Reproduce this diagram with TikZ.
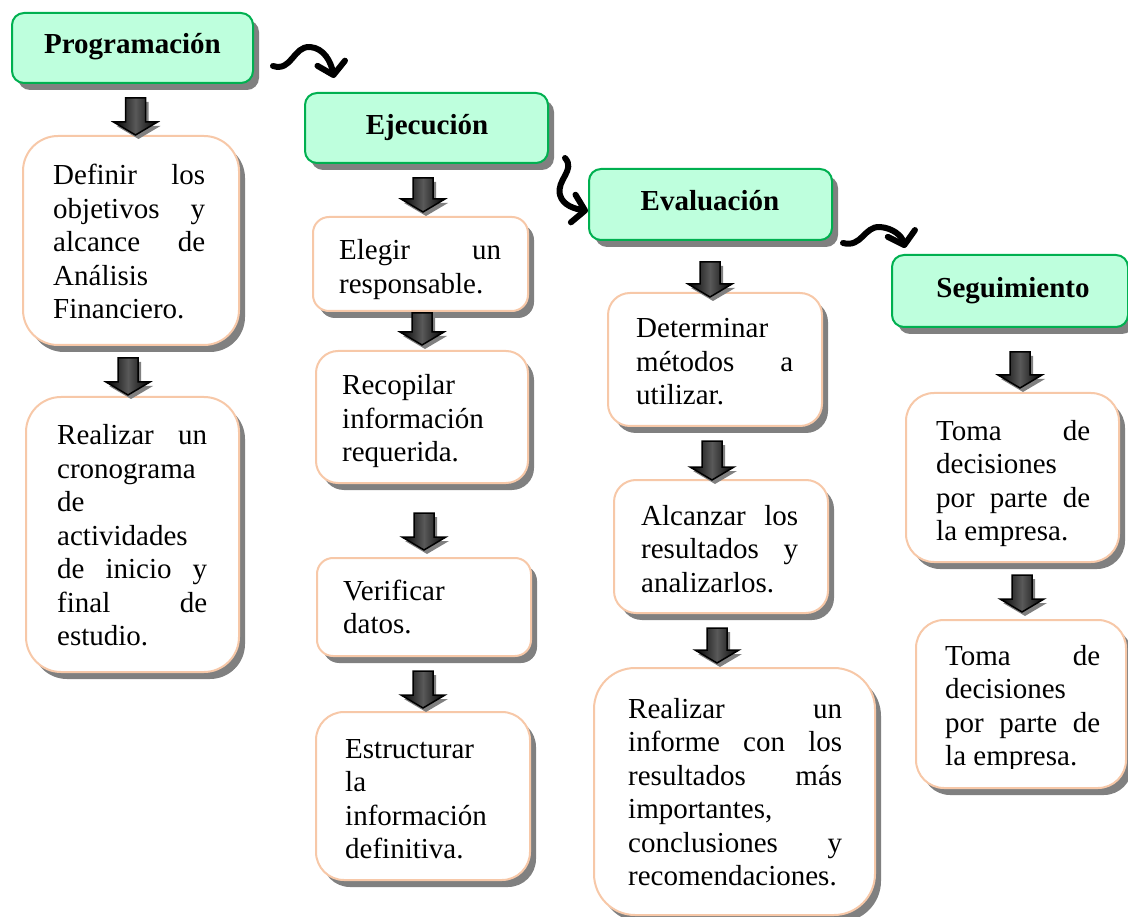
\documentclass[tikz,border=0pt]{standalone}
\usepackage{fontspec}
\setmainfont{Liberation Serif}
\usetikzlibrary{shadows,arrows.meta}
\definecolor{hdrfill}{RGB}{190,255,221}
\definecolor{hdrline}{RGB}{0,176,80}
\definecolor{cardline}{RGB}{247,200,168}
\definecolor{shadowgray}{RGB}{128,128,128}
\tikzset{
  box/.style={anchor=north west, inner sep=0pt, outer sep=0pt, line width=2pt,
    drop shadow={shadow xshift=6pt, shadow yshift=-7pt, fill=shadowgray, opacity=1}},
  hdr/.style={box, draw=hdrline, fill=hdrfill, rounded corners=12pt, minimum height=70pt},
  card/.style={box, draw=cardline, fill=white},
  hdrtext/.style={anchor=base, inner sep=0pt, font=\fontsize{29}{33.5}\selectfont\bfseries},
  cardtext/.style={anchor=base west, inner sep=0pt, font=\fontsize{29}{33.5}\selectfont},
  flow/.style={line width=6pt, line cap=round, line join=round,
    -{Straight Barb[length=12pt,width=28pt,line cap=round,line join=round]}},
  blkfill/.style={left color=black, right color=black, middle color=black!65, draw=black, line width=1.5pt},
}
\newcommand\blkarrow[3]{%
  \fill[shadowgray, shift={(3,4)}] (#1-10,#2) -- (#1+10,#2) -- (#1+10,#3-13) -- (#1+22,#3-13) -- (#1,#3) -- (#1-22,#3-13) -- (#1-10,#3-13) -- cycle;
  \shade[blkfill] (#1-10,#2) -- (#1+10,#2) -- (#1+10,#3-13) -- (#1+22,#3-13) -- (#1,#3) -- (#1-22,#3-13) -- (#1-10,#3-13) -- cycle;}
\begin{document}
\begin{tikzpicture}[x=1pt,y=-1pt]
\useasboundingbox (0,0) rectangle (1128,917);

% ---- headers
\node[hdr, minimum width=241pt] (h1) at (12,13) {};
\node[hdr, minimum width=243pt] (h2) at (305,93) {};
\node[hdr, minimum width=243pt, minimum height=71pt] (h3) at (589,169) {};
\node[hdr, minimum width=236pt, minimum height=72pt] (h4) at (892,255) {};
\node[hdrtext] (h1t) at (132.5,54) {Programación};
\node[hdrtext] (h2t) at (427,135) {Ejecución};
\node[hdrtext] (h3t) at (710,211) {Evaluación};
\node[hdrtext] (h4t) at (1013,298) {Seguimiento};

% ---- cards: Programación
\node[card, rounded corners=35pt, minimum width=216pt, minimum height=209pt] (c1) at (23,136) {};
\node[cardtext] (c1t) at (53,185) {\parbox[t]{152pt}{Definir\hfill los\\objetivos\hfill y\\alcance\hfill de\\Análisis\\Financiero.}};
\node[card, rounded corners=35pt, minimum width=213pt, minimum height=275pt] (c2) at (26,397) {};
\node[cardtext] (c2t) at (57,445) {\parbox[t]{150pt}{Realizar\hfill un\\cronograma\\de\\actividades\\de\hfill inicio\hfill y\\final\hfill de\\estudio.}};

% ---- cards: Ejecución
\node[card, rounded corners=16pt, minimum width=215pt, minimum height=94pt] (e1) at (313,217) {};
\node[cardtext] (e1t) at (339,260) {\parbox[t]{162pt}{Elegir\hfill un\\responsable.}};
\node[card, rounded corners=22pt, minimum width=212pt, minimum height=132pt] (e2) at (316,351) {};
\node[cardtext] (e2t) at (342,395) {\parbox[t]{162pt}{Recopilar\\información\\requerida.}};
\node[card, rounded corners=16pt, minimum width=214pt, minimum height=98pt] (e3) at (317,558) {};
\node[cardtext] (e3t) at (343,600) {\parbox[t]{162pt}{Verificar\\datos.}};
\node[card, rounded corners=28pt, minimum width=214pt, minimum height=168pt] (e4) at (316,712) {};
\node[cardtext] (e4t) at (345,758) {\parbox[t]{162pt}{Estructurar\\la\\información\\definitiva.}};

% ---- cards: Evaluación
\node[card, rounded corners=22pt, minimum width=214pt, minimum height=133pt] (v1) at (608,293) {};
\node[cardtext] (v1t) at (636,338) {\parbox[t]{157pt}{Determinar\\métodos\hfill a\\utilizar.}};
\node[card, rounded corners=22pt, minimum width=214pt, minimum height=133pt] (v2) at (614,480) {};
\node[cardtext] (v2t) at (641,525) {\parbox[t]{157pt}{Alcanzar\hfill los\\resultados\hfill y\\analizarlos.}};
\node[card, rounded corners=41pt, minimum width=281pt, minimum height=247pt] (v3) at (594,668) {};
\node[cardtext] (v3t) at (628,718) {\parbox[t]{214pt}{Realizar\hfill un\\informe\hfill con\hfill los\\resultados\hfill más\\importantes,\\conclusiones\hfill y\\recomendaciones.}};

% ---- cards: Seguimiento
\node[card, rounded corners=28pt, minimum width=213pt, minimum height=169pt] (s1) at (906,393) {};
\node[cardtext] (s1t) at (936,440) {\parbox[t]{154pt}{Toma\hfill de\\decisiones\\por\hfill parte\hfill de\\la empresa.}};
\node[card, rounded corners=28pt, minimum width=210pt, minimum height=168pt] (s2) at (916,620) {};
\begin{scope}
  \clip (900,600) rectangle (1128,768);
  \node[cardtext] (s2t) at (945,665) {\parbox[t]{155pt}{Toma\hfill de\\decisiones\\por\hfill parte\hfill de\\la empresa.}};
\end{scope}

% ---- block arrows (x centre, top, tip)
\blkarrow{135.5}{98}{135}
\blkarrow{128}{358}{395}
\blkarrow{423}{178}{212}
\blkarrow{422}{313}{345}
\blkarrow{424}{513}{550}
\blkarrow{423}{671}{708}
\blkarrow{710}{262}{297}
\blkarrow{712}{441}{480}
\blkarrow{717}{628}{663}
\blkarrow{1020}{352}{388}
\blkarrow{1022}{575}{612}

% ---- curved flow arrows between stages
\coordinate (f1s) at (273,66);
\coordinate (f1e) at (334,78);
\draw[flow] (f1s) .. controls (292,72) and (293,46) .. (310,47) .. controls (324,48) and (331,62) .. (f1e);
\coordinate (f2s) at (565,158);
\coordinate (f2e) at (588,211);
\draw[flow] (f2s) .. controls (576,170) and (556,180) .. (560,195) .. controls (563,206) and (576,209) .. (f2e);
\coordinate (f3s) at (843,243);
\coordinate (f3e) at (905,248);
\draw[flow] (f3s) .. controls (862,248) and (864,226) .. (880,227) .. controls (893,228) and (902,236) .. (f3e);
\end{tikzpicture}
\end{document}
